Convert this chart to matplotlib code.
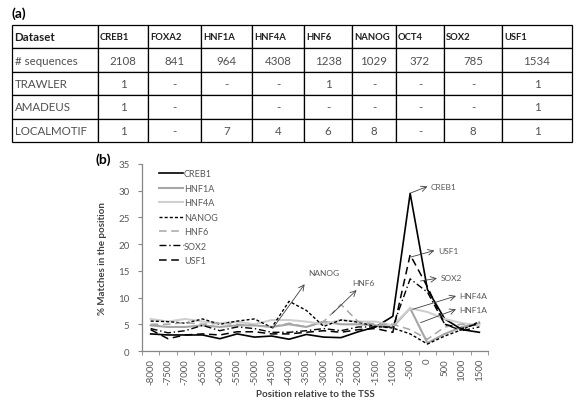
import matplotlib.pyplot as plt

plt.rcParams['font.family'] = ['Lato', 'DejaVu Sans']

# (a) table
col_labels = ['Dataset', 'CREB1', 'FOXA2', 'HNF1A', 'HNF4A', 'HNF6', 'NANOG', 'OCT4', 'SOX2', 'USF1']
row_seq = ['# sequences', '2108', '841', '964', '4308', '1238', '1029', '372', '785', '1534']
row_trawler = ['TRAWLER', '1', '-', '-', '-', '1', '-', '-', '-', '1']
row_amadeus = ['AMADEUS', '1', '-', '', '-', '-', '-', '-', '-', '1']
row_local = ['LOCALMOTIF', '1', '-', '7', '4', '6', '8', '-', '8', '1']

# (b) line chart
positions = [-8000, -7500, -7000, -6500, -6000, -5500, -5000, -4500, -4000, -3500,
             -3000, -2500, -2000, -1500, -1000, -500, 0, 500, 1000, 1500]
creb1 = [3.2, 3.0, 3.0, 3.0, 2.3, 3.2, 2.6, 2.8, 2.2, 3.1, 2.6, 2.5, 3.6, 4.5, 6.5, 29.5, 11.5, 6.0, 4.0, 3.5]
hnf1a = [4.8, 4.5, 4.5, 4.8, 4.5, 4.8, 4.8, 4.5, 5.0, 4.5, 5.5, 5.0, 5.0, 4.8, 4.5, 8.0, 1.5, 3.2, 4.5, 5.2]
hnf4a = [6.0, 5.5, 6.0, 5.5, 5.2, 5.5, 5.0, 5.8, 5.8, 5.5, 5.0, 5.8, 5.5, 5.5, 4.8, 8.0, 7.3, 6.0, 5.2, 4.8]
nanog = [5.6, 5.5, 5.2, 6.0, 5.0, 5.6, 6.0, 4.4, 9.3, 7.6, 4.6, 5.8, 5.4, 4.6, 4.3, 3.2, 1.3, 2.8, 4.0, 5.5]
hnf6 = [5.0, 5.0, 5.3, 5.0, 5.2, 5.0, 4.8, 4.5, 5.2, 4.5, 5.5, 8.7, 5.5, 5.0, 5.0, 4.0, 2.2, 4.5, 5.0, 4.8]
sox2 = [4.2, 3.4, 3.8, 4.8, 3.8, 4.5, 4.2, 3.5, 3.5, 3.8, 4.2, 3.8, 4.5, 4.5, 4.5, 13.5, 11.0, 5.0, 3.8, 4.5]
usf1 = [4.0, 2.3, 3.0, 3.2, 3.0, 3.6, 3.6, 3.2, 3.2, 3.5, 3.8, 3.5, 4.0, 4.2, 3.5, 18.0, 12.0, 5.0, 4.2, 5.2]

W, H = 580, 406
fig = plt.figure(figsize=(W / 100, H / 100), dpi=100)

# ---- table ----
fig.text(12 / W, 1 - 14 / H, '(a)', fontsize=10, fontweight='bold', va='center', color='black')
tax = fig.add_axes([12 / W, 1 - 143 / H, (572 - 12) / W, (143 - 26) / H])
tax.axis('off')
bounds = [12, 98, 148, 201, 252, 304, 352, 396, 444, 502, 572]
widths = [(bounds[i + 1] - bounds[i]) / (572 - 12) for i in range(len(bounds) - 1)]
cells = [col_labels, row_seq, row_trawler, row_amadeus, row_local]
tb = tax.table(cellText=cells, colWidths=widths, cellLoc='center', bbox=[0, 0, 1, 1])
tb.auto_set_font_size(False)
for (r, c), cell in tb.get_celld().items():
    cell.set_edgecolor('black')
    cell.set_linewidth(0.9)
    txt = cell.get_text()
    txt.set_color('#505050')
    if r == 0:
        txt.set_fontsize(6.8)
        txt.set_fontweight('bold')
        txt.set_color('#202020')
        cell.set_text_props(ha='left')
        cell.PAD = 0.04
    else:
        txt.set_fontsize(8.3)
    if c == 0:
        cell.set_text_props(ha='left')
        cell.PAD = 0.03
        if r == 0:
            txt.set_fontsize(8.3)

# ---- line chart ----
fig.text(95 / W, 1 - 160 / H, '(b)', fontsize=10, fontweight='bold', va='center', color='black')
ax = fig.add_axes([142 / W, 1 - 352 / H, (488 - 142) / W, (352 - 165) / H])
idx = list(range(len(positions)))
ax.plot(idx, creb1, color='black', lw=1.2, label='CREB1')
ax.plot(idx, hnf1a, color='#a6a6a6', lw=1.5, label='HNF1A')
ax.plot(idx, hnf4a, color='#cfcfcf', lw=1.5, label='HNF4A')
ax.plot(idx, nanog, color='black', lw=1.0, dashes=(2.2, 1.5), label='NANOG')
ax.plot(idx, hnf6, color='#a6a6a6', lw=1.1, dashes=(5, 3), label='HNF6')
ax.plot(idx, sox2, color='black', lw=1.0, dashes=(5, 2, 1, 2), label='SOX2')
ax.plot(idx, usf1, color='black', lw=1.1, dashes=(5, 3), label='USF1')

ax.set_xlim(-0.5, len(positions) - 0.5)
ax.set_ylim(0, 35)
ax.set_yticks(range(0, 36, 5))
ax.set_xticks(idx)
ax.set_xticklabels([str(p) for p in positions], rotation=90)
ax.set_xticks([i - 0.5 for i in range(len(positions) + 1)], minor=True)
ax.tick_params(axis='x', which='major', length=0, pad=5, labelsize=7, labelcolor='#595959')
ax.tick_params(axis='x', which='minor', length=3, color='#868686', direction='out')
ax.tick_params(axis='y', length=3, color='#868686', labelsize=7, labelcolor='#595959', pad=6)
for s in ['top', 'right']:
    ax.spines[s].set_visible(False)
for s in ['left', 'bottom']:
    ax.spines[s].set_color('#868686')
    ax.spines[s].set_linewidth(0.9)

ax.set_ylabel('% Matches in the position', fontsize=7, fontweight='bold', color='#404040', labelpad=8)
ax.set_xlabel('Position relative to the TSS', fontsize=7, fontweight='bold', color='#404040', labelpad=4)

leg = ax.legend(loc='upper left', bbox_to_anchor=(0.04, 0.99), frameon=False, fontsize=6.5,
                handlelength=2.6, handletextpad=0.1, labelspacing=0.6, borderaxespad=0)
for t in leg.get_texts():
    t.set_color('#595959')

arrow = dict(arrowstyle='->', lw=0.6, color='#404040', shrinkA=0, shrinkB=0)
notes = [('CREB1', (15.05, 29.6), (16.0, 30.8), (16.2, 30.8)),
         ('USF1', (15.05, 17.6), (16.4, 18.8), (16.6, 18.9)),
         ('SOX2', (15.6, 13.1), (16.55, 13.6), (16.75, 13.7)),
         ('HNF4A', (15.15, 7.8), (17.65, 10.3), (17.85, 10.3)),
         ('HNF1A', (15.6, 5.3), (17.65, 7.8), (17.85, 7.8)),
         ('NANOG', (7.05, 4.2), (8.9, 12.5), (9.1, 14.6)),
         ('HNF6', (10.5, 7.0), (11.9, 11.4), (11.65, 12.9))]
for name, start, end, tpos in notes:
    ax.annotate('', xy=end, xytext=start, arrowprops=arrow)
    ax.text(tpos[0], tpos[1], name, fontsize=6, color='#595959', ha='left', va='center')

fig.savefig('out.png', dpi=100)
